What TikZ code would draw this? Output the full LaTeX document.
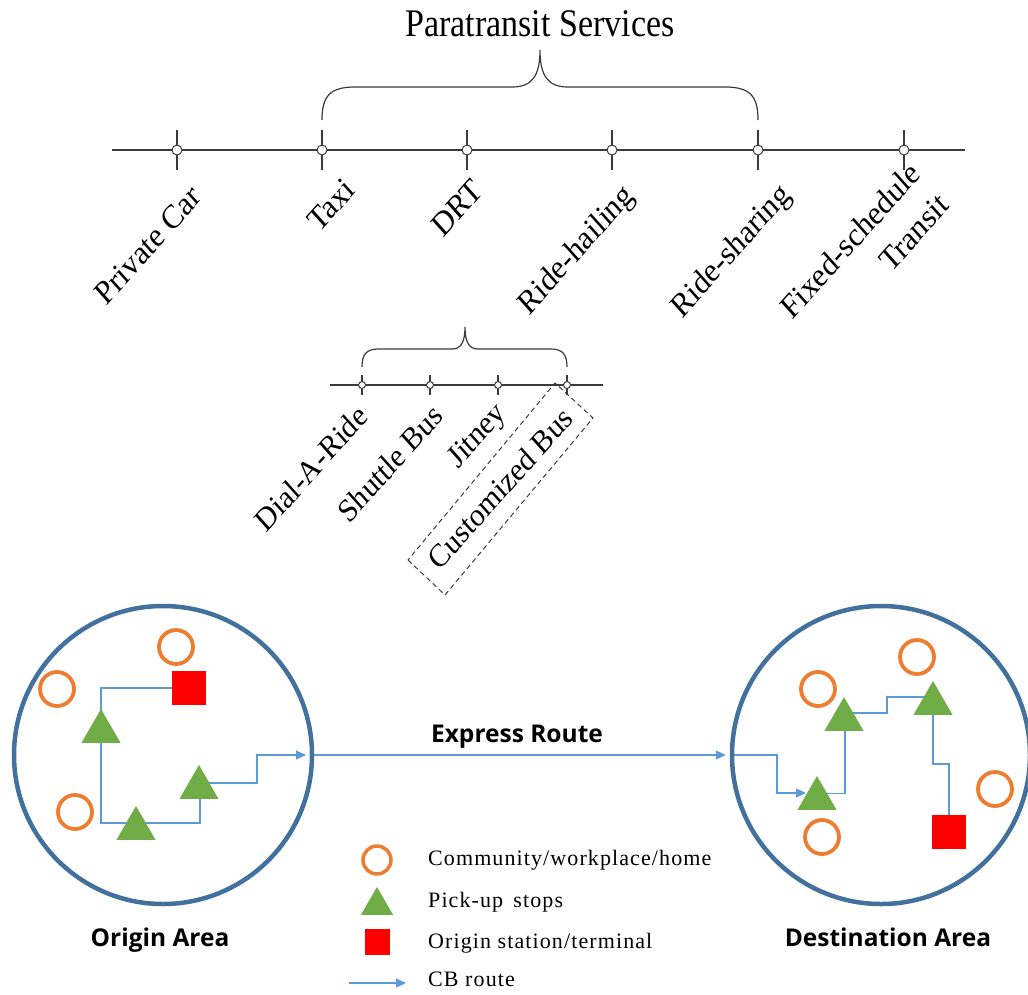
\documentclass[tikz,border=0pt]{standalone}
\usepackage{fontspec}
\setmainfont{Liberation Serif}
\newfontfamily\areasans{Open Sans}
\newfontfamily\legendserif{Liberation Serif}[LetterSpace=5.0]
\usetikzlibrary{shapes.geometric,arrows.meta,backgrounds}

\definecolor{axisgray}{HTML}{3A3A3A}
\definecolor{areablue}{HTML}{41719C}
\definecolor{placeorange}{HTML}{ED7D31}
\definecolor{stopgreen}{HTML}{70AD47}
\definecolor{termred}{HTML}{FF0000}
\definecolor{routeblue}{HTML}{5B9BD5}

% slanted label text, slightly stretched vertically
\newcommand\slantlabel[1]{\scalebox{1}[1.12]{\rotatebox{45}{#1}}}

\begin{document}
\begin{tikzpicture}[x=1pt,y=-1pt,
  axisline/.style={line width=1.4pt, draw=axisgray},
  tickmark/.style={circle, draw=axisgray, fill=white, line width=1pt, minimum size=10pt, inner sep=0pt},
  smalltick/.style={tickmark, minimum size=7pt},
  brace/.style={line width=1.2pt, draw=axisgray},
  catlabel/.style={inner sep=0pt, font=\fontsize{30}{32}\selectfont},
  sublabel/.style={inner sep=0pt, font=\fontsize{29}{31}\selectfont},
  area/.style={circle, draw=areablue, line width=4.5pt, minimum size=298pt, inner sep=0pt},
  place/.style={circle, draw=placeorange, line width=3.8pt, minimum size=34pt, inner sep=0pt},
  stop/.style={regular polygon, regular polygon sides=3, fill=stopgreen, minimum size=45pt, inner sep=0pt},
  terminal/.style={rectangle, fill=termred, minimum size=34pt, inner sep=0pt},
  route/.style={draw=routeblue, line width=1.2pt},
  routearrow/.style={route, -{Triangle[length=10pt,width=9pt]}},
  areatext/.style={anchor=base, inner sep=0pt, font=\areasans\bfseries\fontsize{24.5}{29}\selectfont},
  legendtext/.style={anchor=base west, inner sep=0pt, font=\legendserif\fontsize{22}{26}\selectfont}]
\useasboundingbox (0,0) rectangle (1028,994);

% ---------- mobility spectrum ----------
\node[inner sep=0pt, font=\fontsize{34}{40}\selectfont] (title) at (540,24)
  {\scalebox{1}[1.15]{Paratransit Services}};

\coordinate (axL) at (112,150);
\coordinate (axR) at (965,150);
\foreach \x/\n in {177/pc,322/taxi,467/drt,612/hail,758/share,904/fixed}
  \node[tickmark] (\n) at (\x,150) {};
\begin{scope}[on background layer]
  \draw[axisline] (axL) -- (axR);
  \foreach \n in {pc,taxi,drt,hail,share,fixed}
    \draw[axisline] ([yshift=20pt]\n.center) -- ([yshift=-20pt]\n.center);
\end{scope}

\draw[brace] ([yshift=30pt]taxi.center)
  .. controls (322,96) and (330,87) .. (355,87) -- (512,87)
  .. controls (532,87) and (540,76) .. (540,50)
  .. controls (540,76) and (548,87) .. (568,87) -- (725,87)
  .. controls (750,87) and (758,96) .. ([yshift=30pt]share.center);

\node[catlabel] (lpc)    at (148,245) {\slantlabel{Private Car}};
\node[catlabel] (ltaxi)  at (331,205) {\slantlabel{Taxi}};
\node[catlabel] (ldrt)   at (457,208) {\slantlabel{DRT}};
\node[catlabel] (lhail)  at (577,251) {\slantlabel{Ride-hailing}};
\node[catlabel] (lshare) at (732,252) {\slantlabel{Ride-sharing}};
\node[catlabel] (lfixed) at (867,259)
  {\slantlabel{\begin{tabular}{@{}r@{}}Fixed-schedule\\[8pt]Transit\end{tabular}}};

% ---------- DRT sub-types ----------
\coordinate (sxL) at (330,385);
\coordinate (sxR) at (603,385);
\foreach \x/\n in {362/dar,430/shuttle,498/jitney,567/cbus}
  \node[smalltick] (\n) at (\x,385) {};
\begin{scope}[on background layer]
  \draw[axisline] (sxL) -- (sxR);
  \foreach \n in {dar,shuttle,jitney,cbus}
    \draw[axisline] ([yshift=10pt]\n.center) -- ([yshift=-10pt]\n.center);
\end{scope}

\draw[brace] ([yshift=18pt]dar.center)
  .. controls (362,355) and (366,349) .. (378,349) -- (452,349)
  .. controls (461,349) and (465,342) .. (465,327)
  .. controls (465,342) and (469,349) .. (478,349) -- (551,349)
  .. controls (563,349) and (567,355) .. ([yshift=18pt]cbus.center);

\node[sublabel] (ldar)     at (311,468) {\slantlabel{Dial-A-Ride}};
\node[sublabel] (lshuttle) at (390,463) {\slantlabel{Shuttle Bus}};
\node[sublabel] (ljitney)  at (478,437) {\slantlabel{Jitney}};
\node[sublabel] (lcbus)    at (500,488) {\slantlabel{Customized Bus}};
\draw[axisgray, line width=1pt, dash pattern=on 5pt off 3.5pt]
  (408,560) -- (445,595) -- (593,418) -- (555,383) -- cycle;

% ---------- origin area ----------
\node[area] (oarea) at (163,755) {};
\node[place] (o1) at (176,647) {};
\node[place] (o2) at (57,689) {};
\node[place] (o3) at (75,812) {};
\node[terminal] (osq) at (189,688) {};
\node[stop] (ot1) at (101,731.5) {};
\node[stop] (ot2) at (136,828.5) {};
\node[stop] (ot3) at (199,787.5) {};
\coordinate (oexit) at (306,755);
\begin{scope}[on background layer]
  \draw[routearrow] (osq.west) -| (101,823) -| (200,783) -| (257,755) -- (oexit);
\end{scope}
\node[areatext] (olabel) at (160,946) {Origin Area};

% ---------- destination area ----------
\node[area] (darea) at (881,755) {};
\node[place] (d1) at (818,689) {};
\node[place] (d2) at (917,657) {};
\node[place] (d3) at (995,789) {};
\node[place] (d4) at (822,837) {};
\node[stop] (dt1) at (844,719.5) {};
\node[stop] (dt2) at (933,703.5) {};
\node[stop] (dt3) at (817,798.5) {};
\node[terminal] (dsq) at (949,832) {};
\begin{scope}[on background layer]
  \draw[routearrow] (darea.west) -| (777,793) -- ([xshift=-11pt,yshift=5.5pt]dt3.center);
  \draw[route] ([yshift=5pt]dt3.center) -| (845,713) -| (887,697) -| (dt2.center)
    |- (949,764) -- (dsq.north);
\end{scope}
\node[areatext] (dlabel) at (888,946) {Destination Area};

% ---------- express link ----------
\draw[routearrow, shorten >=4pt] (oarea.east) -- (darea.west);
\node[inner sep=0pt, font=\areasans\bfseries\fontsize{24.5}{29}\selectfont] (express) at (517,737) {Express Route};

% ---------- legend ----------
\node[place, minimum size=28pt, line width=3.5pt] (lgplace) at (377,860) {};
\node[stop, minimum size=37pt] (lgstop) at (377,905.5) {};
\node[terminal, minimum width=25pt, minimum height=26pt] (lgterm) at (377.5,942) {};
\coordinate (lgA) at (349,983);
\coordinate (lgB) at (406,983);
\draw[routearrow] (lgA) -- (lgB);
\node[legendtext] (tplace) at (428,865) {Community/workplace/home};
\node[legendtext] (tstop)  at (428,907) {Pick-up\, stops};
\node[legendtext] (tterm)  at (428,948) {Origin station/terminal};
\node[legendtext] (troute) at (428,986) {CB route};
\end{tikzpicture}
\end{document}
